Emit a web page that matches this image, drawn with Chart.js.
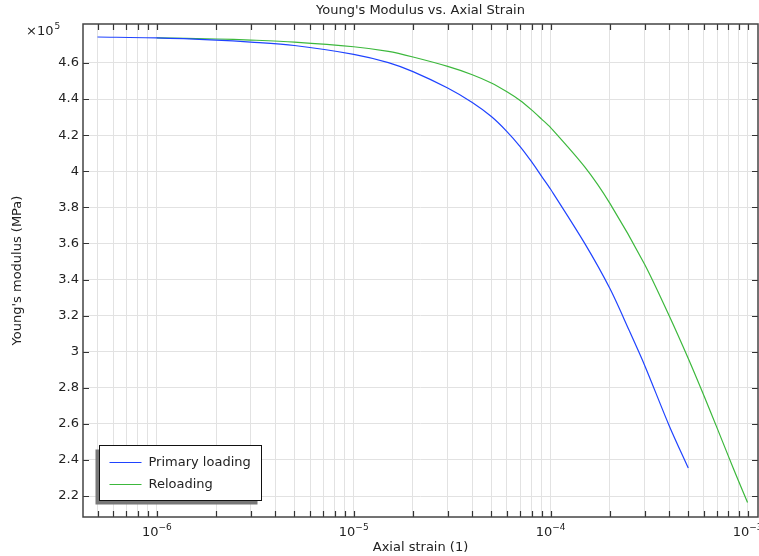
<!DOCTYPE html>
<html>
<head>
<meta charset="utf-8">
<script src="https://cdn.jsdelivr.net/npm/chart.js@4/dist/chart.umd.min.js"></script>
<style>
  html, body { margin: 0; padding: 0; background: #fff; }
  #wrap { width: 759px; height: 556px; }
</style>
</head>
<body>
<div id="wrap"><canvas id="chart"></canvas></div>
<script>
// values, modulus in units of 1e5 MPa
const strainPrimary = [5e-7, 1e-6, 2e-6, 3e-6, 5e-6, 1e-5, 1.5e-5, 2e-5, 3e-5, 4e-5, 5e-5, 6e-5, 7e-5, 8e-5, 9e-5, 1e-4, 1.5e-4, 2e-4, 2.5e-4, 3e-4, 4e-4, 5e-4];
const modulusPrimary = [4.744, 4.739, 4.727, 4.716, 4.697, 4.648, 4.602, 4.552, 4.461, 4.381, 4.303, 4.22, 4.137, 4.053, 3.972, 3.9, 3.595, 3.35, 3.12, 2.925, 2.59, 2.355];

const strainReload = [1e-6, 2e-6, 3e-6, 5e-6, 1e-5, 1.5e-5, 2e-5, 3e-5, 4e-5, 5e-5, 6e-5, 7e-5, 8e-5, 9e-5, 1e-4, 1.5e-4, 2e-4, 3e-4, 4e-4, 5e-4, 6e-4, 7e-4, 8e-4, 9e-4, 1e-3];
const modulusReload = [4.739, 4.733, 4.727, 4.716, 4.69, 4.664, 4.633, 4.581, 4.535, 4.489, 4.44, 4.392, 4.34, 4.289, 4.242, 4.02, 3.822, 3.485, 3.199, 2.962, 2.757, 2.578, 2.42, 2.283, 2.164];

const seriesNames = ['Primary loading', 'Reloading'];
const seriesColors = ['#1f43ff', '#3cb83c'];

const xTicks = [5e-7, 6e-7, 7e-7, 8e-7, 9e-7,
  1e-6, 2e-6, 3e-6, 4e-6, 5e-6, 6e-6, 7e-6, 8e-6, 9e-6,
  1e-5, 2e-5, 3e-5, 4e-5, 5e-5, 6e-5, 7e-5, 8e-5, 9e-5,
  1e-4, 2e-4, 3e-4, 4e-4, 5e-4, 6e-4, 7e-4, 8e-4, 9e-4,
  1e-3];
const xLabelExps = [-6, -5, -4, -3];
const yTicks = [2.2, 2.4, 2.6, 2.8, 3, 3.2, 3.4, 3.6, 3.8, 4, 4.2, 4.4, 4.6];

const FONT = '"DejaVu Sans", sans-serif';

function points(xs, ys) {
  return xs.map((x, i) => ({ x: x, y: ys[i] }));
}

// frame, inward ticks, texts and legend, all drawn on top of the chart
const decorations = {
  id: 'decorations',
  afterDraw(chart) {
    const ctx = chart.ctx;
    const a = chart.chartArea;
    const xs = chart.scales.x, ys = chart.scales.y;
    ctx.save();

    // ticks
    ctx.strokeStyle = '#333';
    ctx.lineWidth = 1.2;
    ctx.beginPath();
    xTicks.forEach(v => {
      const px = Math.round(xs.getPixelForValue(v)) + 0.5;
      ctx.moveTo(px, a.bottom); ctx.lineTo(px, a.bottom - 6);
      ctx.moveTo(px, a.top); ctx.lineTo(px, a.top + 6);
    });
    yTicks.forEach(v => {
      const py = Math.round(ys.getPixelForValue(v)) + 0.5;
      ctx.moveTo(a.left, py); ctx.lineTo(a.left + 6, py);
      ctx.moveTo(a.right, py); ctx.lineTo(a.right - 6, py);
    });
    ctx.stroke();

    // frame
    ctx.strokeStyle = '#444';
    ctx.lineWidth = 1.5;
    ctx.strokeRect(a.left, a.top, a.right - a.left, a.bottom - a.top);

    ctx.fillStyle = '#222';
    ctx.textBaseline = 'alphabetic';

    // x tick labels 10^n
    xLabelExps.forEach(e => {
      const px = xs.getPixelForValue(Math.pow(10, e));
      ctx.font = '13px ' + FONT;
      const w1 = ctx.measureText('10').width;
      const sup = '\u2212' + Math.abs(e);
      ctx.font = '9px ' + FONT;
      const w2 = ctx.measureText(sup).width;
      const x0 = px - (w1 + w2) / 2;
      ctx.textAlign = 'left';
      ctx.font = '13px ' + FONT;
      ctx.fillText('10', x0, 536);
      ctx.font = '9px ' + FONT;
      ctx.fillText(sup, x0 + w1, 530);
    });

    // multiplier on y axis
    ctx.font = '13px ' + FONT;
    ctx.textAlign = 'left';
    ctx.fillText('\u00d710', 26, 35);
    const wm = ctx.measureText('\u00d710').width;
    ctx.font = '9px ' + FONT;
    ctx.fillText('5', 26 + wm + 1, 29);

    // title and axis titles
    ctx.font = '13px ' + FONT;
    ctx.textAlign = 'center';
    ctx.fillText("Young's Modulus vs. Axial Strain", (a.left + a.right) / 2, 14);
    ctx.fillText('Axial strain (1)', (a.left + a.right) / 2, 551);
    ctx.save();
    ctx.translate(21, (a.top + a.bottom) / 2);
    ctx.rotate(-Math.PI / 2);
    ctx.fillText("Young's modulus (MPa)", 0, 0);
    ctx.restore();

    // legend box with shadow
    const lx = 99.5, ly = 445.5, lw = 162, lh = 55;
    ctx.fillStyle = '#777';
    ctx.fillRect(lx - 4, ly + 4, lw, lh);
    ctx.fillStyle = '#fff';
    ctx.fillRect(lx, ly, lw, lh);
    ctx.strokeStyle = '#111';
    ctx.lineWidth = 1;
    ctx.strokeRect(lx, ly, lw, lh);
    chart.data.datasets.forEach((ds, i) => {
      const yy = ly + 17 + i * 22;
      ctx.strokeStyle = ds.borderColor;
      ctx.lineWidth = 1.2;
      ctx.beginPath();
      ctx.moveTo(lx + 10, yy); ctx.lineTo(lx + 42, yy);
      ctx.stroke();
      ctx.fillStyle = '#222';
      ctx.font = '13px ' + FONT;
      ctx.textAlign = 'left';
      ctx.textBaseline = 'middle';
      ctx.fillText(ds.label, lx + 49, yy);
    });
    ctx.restore();
  }
};

new Chart(document.getElementById('chart'), {
  type: 'line',
  data: {
    datasets: [{
      label: seriesNames[0],
      data: points(strainPrimary, modulusPrimary),
      borderColor: seriesColors[0],
      borderWidth: 1.2,
      pointRadius: 0,
      tension: 0.3
    }, {
      label: seriesNames[1],
      data: points(strainReload, modulusReload),
      borderColor: seriesColors[1],
      borderWidth: 1.2,
      pointRadius: 0,
      tension: 0.3
    }]
  },
  options: {
    responsive: true,
    maintainAspectRatio: false,
    animation: false,
    layout: { padding: { top: 24, right: 1, left: 0, bottom: 0 } },
    plugins: {
      legend: { display: false },
      title: { display: false },
      tooltip: { enabled: false }
    },
    scales: {
      x: {
        type: 'logarithmic',
        min: 4.22e-7,
        max: 1.13e-3,
        afterBuildTicks: s => { s.ticks = xTicks.map(v => ({ value: v })); },
        afterFit: s => { s.height = 39; },
        ticks: { display: false },
        grid: { color: '#e2e2e2', lineWidth: 1, drawTicks: false },
        border: { display: false }
      },
      y: {
        min: 2.084,
        max: 4.816,
        afterBuildTicks: s => { s.ticks = yTicks.map(v => ({ value: v })); },
        afterFit: s => { s.width = 83; },
        ticks: {
          color: '#222',
          padding: 4,
          font: { family: FONT, size: 13 },
          callback: v => String(+v.toFixed(1))
        },
        grid: { color: '#e2e2e2', lineWidth: 1, drawTicks: false },
        border: { display: false }
      }
    }
  },
  plugins: [decorations]
});
</script>
</body>
</html>
